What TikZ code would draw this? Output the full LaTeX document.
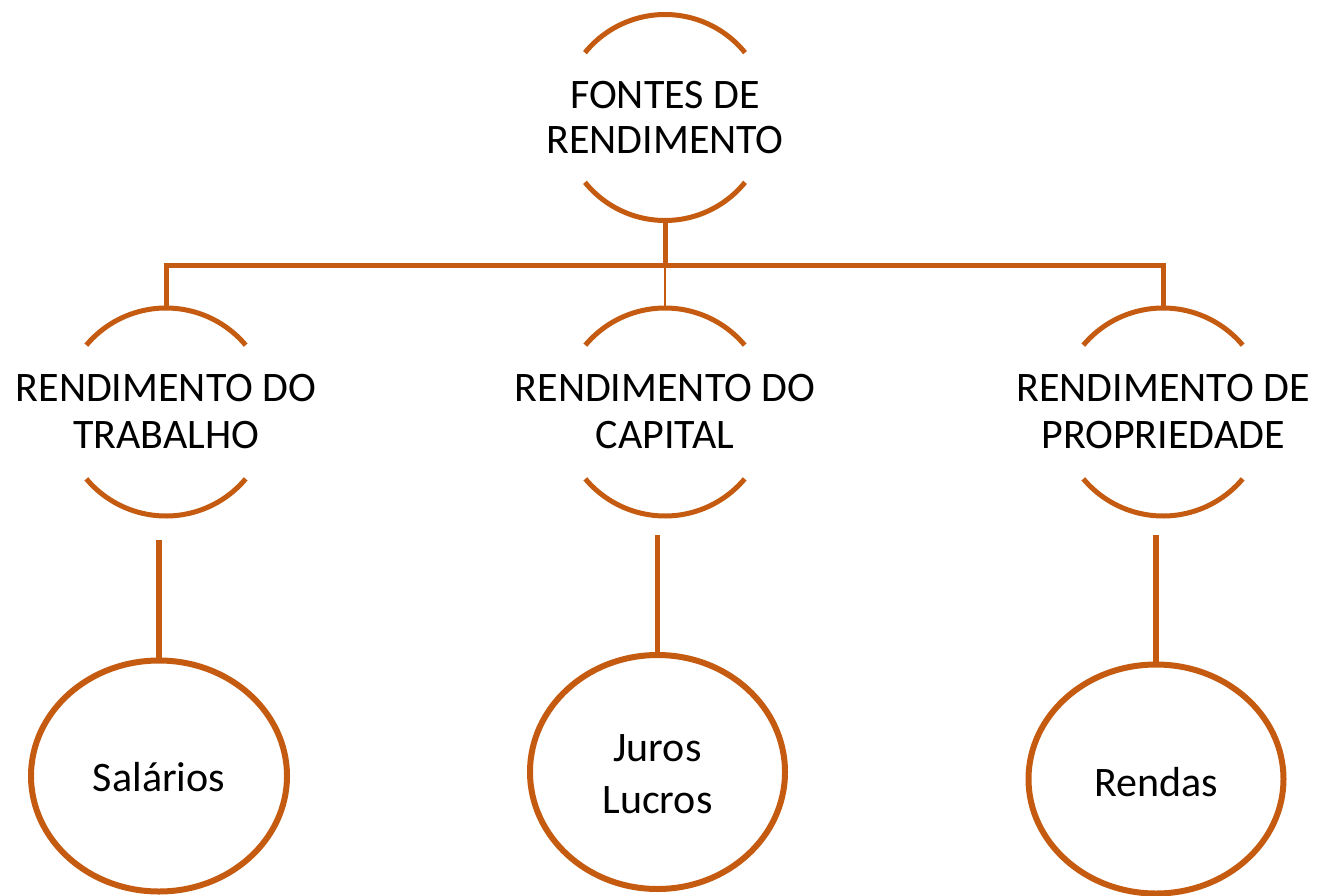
\documentclass[tikz,border=0pt]{standalone}
\usepackage{fontspec}
\setmainfont{Carlito}
\usetikzlibrary{calc,shapes.geometric}
\definecolor{rust}{RGB}{197,90,17}
\tikzset{
  arcline/.style={draw=rust, line width=5pt},
  link/.style={draw=rust, line width=5pt},
  thinlink/.style={draw=rust, line width=2.5pt},
  oval/.style={draw=rust, line width=6pt, ellipse, inner sep=0pt},
  label/.style={align=center, inner sep=0pt, font=\fontsize{42pt}{47pt}\selectfont},
}
\begin{document}
\begin{tikzpicture}[x=1pt,y=1pt]
\useasboundingbox (0,0) rectangle (1319,-896);
% top node
\node[label, font=\fontsize{42pt}{45pt}\selectfont] (f) at (665,-117.5) {FONTES DE\\RENDIMENTO};
\draw[arcline] (f.center) ++(39:103) arc[start angle=39, end angle=141, radius=103];
\draw[arcline] (f.center) ++(219:103) arc[start angle=219, end angle=321, radius=103];
% middle nodes
\node[label] (a) at (166,-412) {RENDIMENTO DO\\TRABALHO};
\node[label] (b) at (665,-412) {RENDIMENTO DO\\CAPITAL};
\node[label] (c) at (1163,-412) {RENDIMENTO DE\\PROPRIEDADE};
\foreach \n in {a,b,c}{
  \draw[arcline] (\n.center) ++(40:104) arc[start angle=40, end angle=140, radius=104];
  \draw[arcline] (\n.center) ++(220:104) arc[start angle=220, end angle=320, radius=104];
}
% bottom ovals
\node[oval, minimum width=256pt, minimum height=231pt] (sa) at (159,-776) {};
\node[oval, minimum width=255pt, minimum height=234pt] (ju) at (657.5,-772) {};
\node[oval, minimum width=255pt, minimum height=229pt] (re) at (1156,-779) {};
\node[label] (tsa) at (159,-777) {Salários};
\node[label, font=\fontsize{42pt}{52pt}\selectfont] (tju) at (657.5,-774) {Juros\\Lucros};
\node[label] (tre) at (1156,-782) {Rendas};
% connectors
\coordinate (fb) at ($(f.center)+(0,-103)$);
\coordinate (bar) at (665,-265);
\coordinate (barL) at (166,-265);
\coordinate (barR) at (1163,-265);
\coordinate (at) at ($(a.center)+(0,104)$);
\coordinate (bt) at ($(b.center)+(0,104)$);
\coordinate (ct) at ($(c.center)+(0,104)$);
\draw[link] (fb) -- (bar);
\draw[link] ($(barL)+(-2.5,0)$) -- ($(barR)+(2.5,0)$);
\draw[link] (barL) -- (at);
\draw[link] (barR) -- (ct);
\draw[thinlink] (bar) -- (bt);
\coordinate (as) at (159,-540);
\coordinate (bs) at (657.5,-535);
\coordinate (cs) at (1156,-535);
\draw[link, line width=6pt] (as) -- (sa.north);
\draw[thinlink, line width=4.5pt] (bs) -- (ju.north);
\draw[link, line width=6pt] (cs) -- (re.north);
\end{tikzpicture}
\end{document}
